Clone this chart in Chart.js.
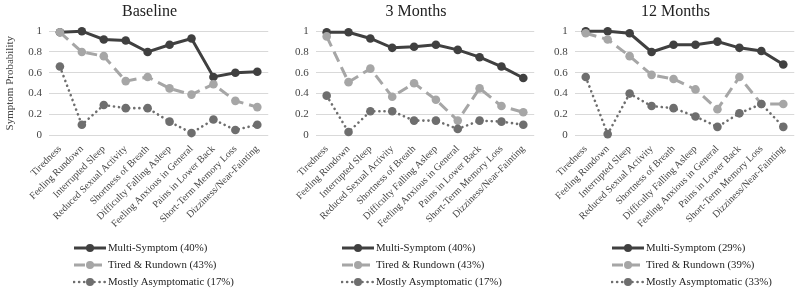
<!DOCTYPE html>
<html>
<head>
<meta charset="utf-8">
<script src="https://cdn.jsdelivr.net/npm/chart.js@4/dist/chart.umd.min.js"></script>
<style>
  body { margin: 0; background: #fff; width: 800px; height: 291px; overflow: hidden; position: relative; font-family: "Liberation Serif", serif; }
  .panel { position: absolute; top: 0; }
  .legend { position: absolute; font-size: 10.8px; color: #222; }
  .legend div { height: 17px; line-height: 17px; white-space: nowrap; display: flex; align-items: center; }
  .legend svg { margin-right: 1px; }
</style>
</head>
<body>
<canvas id="chart0" class="panel" width="274" height="240" style="left:0px"></canvas>
<canvas id="chart1" class="panel" width="268" height="240" style="left:272px"></canvas>
<canvas id="chart2" class="panel" width="262" height="240" style="left:538px"></canvas>
<div id="legend0" class="legend" style="left:73px; top:239px"></div>
<div id="legend1" class="legend" style="left:341px; top:239px"></div>
<div id="legend2" class="legend" style="left:611px; top:239px"></div>

<script>
const symptoms = [
  "Tiredness", "Feeling Rundown", "Interrupted Sleep", "Reduced Sexual Activity",
  "Shortness of Breath", "Difficulty Falling Asleep", "Feeling Anxious in General",
  "Pains in Lower Back", "Short-Term Memory Loss", "Dizziness/Near-Fainting"
];
const yTicks = [0, 0.2, 0.4, 0.6, 0.8, 1];
const panelTitles = ["Baseline", "3 Months", "12 Months"];
const seriesNames = ["Multi-Symptom", "Tired & Rundown", "Mostly Asymptomatic"];

// class shares (%) shown in each legend
const baselineShares = [40, 43, 17];
const month3Shares = [40, 43, 17];
const month12Shares = [29, 39, 33];

const baselineMulti = [0.99, 1.0, 0.92, 0.91, 0.80, 0.87, 0.93, 0.56, 0.60, 0.61];
const baselineTired = [0.99, 0.80, 0.76, 0.52, 0.56, 0.45, 0.39, 0.49, 0.33, 0.27];
const baselineMostly = [0.66, 0.10, 0.29, 0.26, 0.26, 0.13, 0.02, 0.15, 0.05, 0.10];

const month3Multi = [0.99, 0.99, 0.93, 0.84, 0.85, 0.87, 0.82, 0.75, 0.66, 0.55];
const month3Tired = [0.95, 0.51, 0.64, 0.37, 0.50, 0.34, 0.14, 0.45, 0.28, 0.22];
const month3Mostly = [0.38, 0.03, 0.23, 0.23, 0.14, 0.14, 0.06, 0.14, 0.13, 0.10];

const month12Multi = [1.0, 1.0, 0.98, 0.80, 0.87, 0.87, 0.90, 0.84, 0.81, 0.68];
const month12Tired = [0.98, 0.92, 0.76, 0.58, 0.54, 0.44, 0.25, 0.56, 0.30, 0.30];
const month12Mostly = [0.56, 0.01, 0.40, 0.28, 0.26, 0.18, 0.08, 0.21, 0.30, 0.08];

const seriesStyles = [
  { color: "#404040", dash: [], width: 3, cap: "butt" },
  { color: "#a6a6a6", dash: [11, 6], width: 3, cap: "butt" },
  { color: "#6e6e6e", dash: [0.1, 5], width: 2.6, cap: "round" }
];

const serif = "'Liberation Serif', 'Times New Roman', serif";

// centre the panel title a little left of the plot, like the original figure
const titleShift = {
  id: "titleShift",
  afterLayout(chart) {
    const t = chart.titleBlock;
    if (!t) return;
    t.left = chart.chartArea.left - 18;
    t.right = chart.chartArea.right;
    t.width = t.right - t.left;
  }
};

function buildDatasets(values) {
  return values.map((data, i) => ({
    label: seriesNames[i],
    data: data,
    borderColor: seriesStyles[i].color,
    backgroundColor: seriesStyles[i].color,
    borderWidth: seriesStyles[i].width,
    borderDash: seriesStyles[i].dash,
    borderCapStyle: seriesStyles[i].cap,
    pointRadius: 4.3,
    pointBorderWidth: 0,
    pointBackgroundColor: seriesStyles[i].color,
    tension: 0,
    clip: 8,
    order: 3 - i
  }));
}

function renderPanel(index, values, padding, showYTitle) {
  const ctx = document.getElementById("chart" + index).getContext("2d");
  new Chart(ctx, {
    type: "line",
    data: { labels: symptoms, datasets: buildDatasets(values) },
    plugins: [titleShift],
    options: {
      responsive: false,
      animation: false,
      devicePixelRatio: 1,
      layout: { padding: padding },
      plugins: {
        legend: { display: false },
        tooltip: { enabled: false },
        title: {
          display: true,
          text: panelTitles[index],
          color: "#222",
          font: { family: serif, size: 16, weight: "normal" },
          padding: { top: 0, bottom: 10 }
        }
      },
      scales: {
        x: {
          offset: true,
          grid: { display: false, drawTicks: false },
          border: { display: false },
          ticks: {
            autoSkip: false,
            maxRotation: 45,
            minRotation: 45,
            padding: 8,
            color: "#444",
            font: { family: serif, size: 10 }
          }
        },
        y: {
          min: 0,
          max: 1,
          afterBuildTicks: axis => { axis.ticks = yTicks.map(v => ({ value: v })); },
          grid: { color: "#d9d9d9", lineWidth: 1, drawTicks: false },
          border: { display: false },
          title: {
            display: showYTitle,
            text: "Symptom Probability",
            color: "#444",
            font: { family: serif, size: 11 },
            padding: { top: 0, bottom: 4 }
          },
          ticks: {
            padding: 7,
            color: "#444",
            font: { family: serif, size: 11 },
            callback: value => String(value)
          }
        }
      }
    }
  });
}

function sampleSvg(style) {
  const dash = style.dash.length ? `stroke-dasharray="${style.dash.join(" ")}"` : "";
  return `<svg width="34" height="10"><line x1="1" y1="5" x2="33" y2="5" stroke="${style.color}"
    stroke-width="${style.width}" stroke-linecap="${style.cap}" ${dash}/>
    <circle cx="17" cy="5" r="4" fill="${style.color}"/></svg>`;
}

function renderLegend(index, shares) {
  const box = document.getElementById("legend" + index);
  box.innerHTML = seriesNames.map((name, i) =>
    `<div>${sampleSvg(seriesStyles[i])}<span>${name} (${shares[i]}%)</span></div>`
  ).join("");
}

renderPanel(0, [baselineMulti, baselineTired, baselineMostly], { left: 4, right: 2, top: 2, bottom: 2 }, true);
renderPanel(1, [month3Multi, month3Tired, month3Mostly], { left: 16, right: 3, top: 2, bottom: 2 }, false);
renderPanel(2, [month12Multi, month12Tired, month12Mostly], { left: 9, right: 2, top: 2, bottom: 2 }, false);

renderLegend(0, baselineShares);
renderLegend(1, month3Shares);
renderLegend(2, month12Shares);
</script>
</body>
</html>
